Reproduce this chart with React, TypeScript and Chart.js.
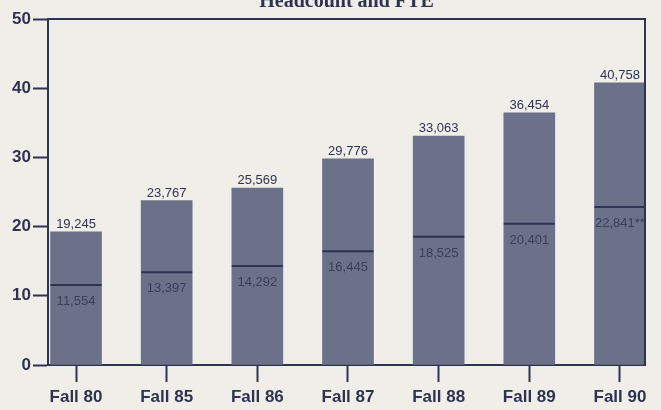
import React, { useEffect, useRef } from "react";
import { Chart, registerables } from "chart.js";

Chart.register(...registerables);

const categories = ["Fall 80", "Fall 85", "Fall 86", "Fall 87", "Fall 88", "Fall 89", "Fall 90"];
const headcount = [19.245, 23.767, 25.569, 29.776, 33.063, 36.454, 40.758];
const fte = [11.554, 13.397, 14.292, 16.445, 18.525, 20.401, 22.841];
const headcountLabels = ["19,245", "23,767", "25,569", "29,776", "33,063", "36,454", "40,758"];
const fteLabels = ["11,554", "13,397", "14,292", "16,445", "18,525", "20,401", "22,841**"];
const yTicks = [0, 10, 20, 30, 40, 50];
const title = "Headcount and FTE";

const INK = "#2f3350";
const BAR = "#6b7189";
const BG = "#efeee9";
const SANS = "'Liberation Sans', Arial, Helvetica, sans-serif";

const decorPlugin = {
  id: "decor",
  afterDatasetsDraw(chart: any) {
    const { ctx, chartArea } = chart;
    ctx.save();
    ctx.strokeStyle = INK;
    ctx.lineWidth = 2;
    ctx.beginPath();
    ctx.moveTo(chartArea.left, chartArea.top);
    ctx.lineTo(chartArea.right, chartArea.top);
    ctx.lineTo(chartArea.right, chartArea.bottom);
    ctx.stroke();

    ctx.fillStyle = INK;
    ctx.font = "bold 20px 'Liberation Serif', 'Times New Roman', serif";
    ctx.textAlign = "center";
    ctx.textBaseline = "alphabetic";
    ctx.fillText(title, (chartArea.left + chartArea.right) / 2, 7);

    const barMeta = chart.getDatasetMeta(0);
    const lineMeta = chart.getDatasetMeta(1);
    ctx.font = "13px " + SANS;
    barMeta.data.forEach((el: any, i: number) => {
      ctx.fillStyle = INK;
      ctx.fillText(headcountLabels[i], el.x, el.y - 4);
    });
    lineMeta.data.forEach((el: any, i: number) => {
      ctx.fillStyle = "#3a3f5a";
      ctx.fillText(fteLabels[i], el.x, el.y + 20);
    });
    ctx.restore();
  },
};

export default function App() {
  const ref = useRef<HTMLCanvasElement | null>(null);

  useEffect(() => {
    if (!ref.current) return;
    const chart = new Chart(ref.current, {
      type: "bar",
      data: {
        datasets: [
          {
            type: "bar",
            label: "Headcount",
            data: headcount.map((v, i) => ({ x: i, y: v })),
            backgroundColor: BAR,
            borderWidth: 0,
            barThickness: 51,
            order: 2,
          },
          {
            type: "line",
            label: "FTE",
            data: fte.map((v, i) => ({ x: i, y: v })),
            showLine: false,
            pointStyle: "line",
            pointRadius: 25.5,
            pointHoverRadius: 25.5,
            borderColor: INK,
            borderWidth: 2,
            order: 1,
          } as any,
        ],
      },
      options: {
        responsive: true,
        maintainAspectRatio: false,
        animation: false,
        layout: { autoPadding: false, padding: { top: 19, right: 16, left: 0, bottom: 0 } },
        plugins: {
          legend: { display: false },
          tooltip: { enabled: false },
          title: { display: false },
        },
        scales: {
          x: {
            type: "linear",
            offset: false,
            min: -0.309,
            max: 6.276,
            afterBuildTicks: (scale: any) => {
              scale.ticks = categories.map((_, i) => ({ value: i }));
            },
            afterFit: (scale: any) => {
              scale.height = 45;
              scale.paddingLeft = 0;
              scale.paddingRight = 0;
            },
            ticks: {
              callback: (v: any) => categories[v] ?? "",
              color: INK,
              font: { family: SANS, size: 17, weight: "bold" },
              padding: 5,
              maxRotation: 0,
              autoSkip: false,
            },
            grid: {
              offset: false,
              drawOnChartArea: false,
              drawTicks: true,
              tickLength: 17,
              tickColor: INK,
              tickWidth: 2,
            },
            border: { color: INK, width: 2 },
          },
          y: {
            min: 0,
            max: 50,
            afterBuildTicks: (scale: any) => {
              scale.ticks = yTicks.map((v) => ({ value: v }));
            },
            afterFit: (scale: any) => {
              scale.width = 48;
              scale.paddingTop = 0;
              scale.paddingBottom = 0;
            },
            ticks: {
              color: INK,
              font: { family: SANS, size: 17, weight: "bold" },
              padding: 2,
            },
            grid: {
              drawOnChartArea: false,
              drawTicks: true,
              tickLength: 15,
              tickColor: INK,
              tickWidth: 2,
            },
            border: { color: INK, width: 2 },
          },
        },
      },
      plugins: [decorPlugin],
    } as any);
    return () => chart.destroy();
  }, []);

  return (
    <div
      style={{
        position: "fixed",
        left: 0,
        top: 0,
        width: 661,
        height: 410,
        background: BG,
      }}
    >
      <canvas ref={ref} />
    </div>
  );
}
